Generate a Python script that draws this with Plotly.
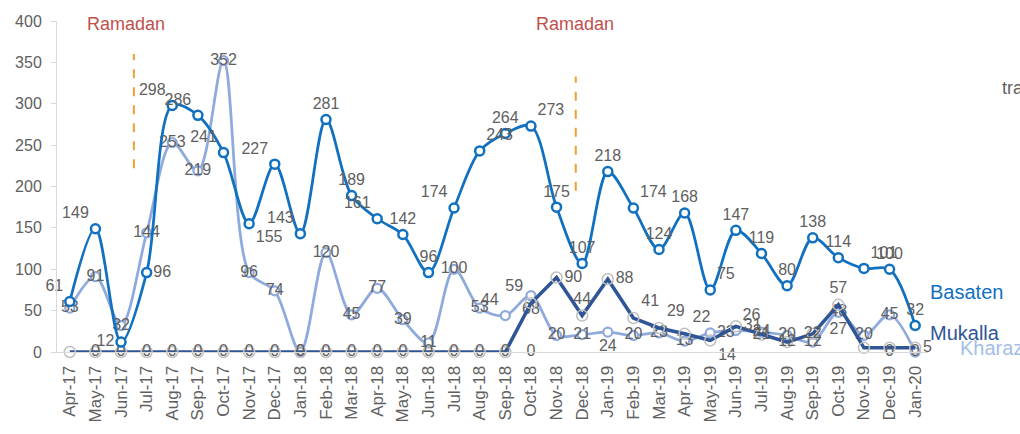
import plotly.graph_objects as go

# ---------------- data ----------------
months = ["Apr-17", "May-17", "Jun-17", "Jul-17", "Aug-17", "Sep-17", "Oct-17", "Nov-17",
          "Dec-17", "Jan-18", "Feb-18", "Mar-18", "Apr-18", "May-18", "Jun-18", "Jul-18",
          "Aug-18", "Sep-18", "Oct-18", "Nov-18", "Dec-18", "Jan-19", "Feb-19", "Mar-19",
          "Apr-19", "May-19", "Jun-19", "Jul-19", "Aug-19", "Sep-19", "Oct-19", "Nov-19",
          "Dec-19", "Jan-20"]

basaten = [61, 149, 12, 96, 298, 286, 241, 155, 227, 143, 281, 189, 161, 142, 96, 174,
           243, 264, 273, 175, 107, 218, 174, 124, 168, 75, 147, 119, 80, 138, 114, 101,
           100, 32]

mukalla = [0, 0, 0, 0, 0, 0, 0, 0, 0, 0, 0, 0, 0, 0, 0, 0,
           0, 0, 59, 90, 44, 88, 41, 29, 22, 14, 31, 21, 12, 22, 57, 5,
           5, 5]

kharaz = [53, 91, 32, 144, 253, 219, 352, 96, 74, 0, 120, 45, 77, 39, 11, 100,
          53, 44, 68, 20, 21, 24, 20, 23, 13, 23, 26, 24, 20, 12, 48, 20,
          45, 0]

mukalla_hidden_labels = ["Apr-17", "Nov-19", "Dec-19"]

# stray data labels visible near the axis
extra_months = ["Oct-18", "Oct-19", "Dec-19"]
extra_values = [0, 27, 0]

ramadan_lines = [2.5, 19.75]          # category positions of dashed markers
ramadan_spans = [(222, 360), (195, 333)]

# ---------------- label positions ----------------
bas_pos = ["top left", "top left", "middle left", "middle right", "top left", "top left",
           "top left", "bottom right", "top left", "top left", "top center", "top center",
           "top left", "top center", "top center", "top left", "top right", "top center",
           "top right", "top center", "top center", "top center", "top right", "top center",
           "top center", "top right", "top center", "top center", "top center", "top center",
           "top center", "top right", "top center", "top center"]

kh_pos = ["middle center"] * len(months)
kh_pos[17] = "top left"
kh_pos[18] = "bottom center"
kh_pos[21] = "bottom center"
kh_pos[25] = "middle right"
kh_pos[26] = "top right"

mk_pos = ["middle center"] * len(months)
mk_pos[18] = "top left"
mk_pos[19] = "middle right"
mk_pos[20] = "top center"
mk_pos[21] = "middle right"
mk_pos[22] = "top right"
mk_pos[23] = "top right"
mk_pos[24] = "top right"
mk_pos[25] = "bottom right"
mk_pos[26] = "middle right"
mk_pos[30] = "top center"
mk_pos[33] = "middle right"

mk_text = ["" if m in mukalla_hidden_labels else str(v) for m, v in zip(months, mukalla)]

# ---------------- styling ----------------
C_BAS = "#1170BF"
C_MUK = "#2F5597"
C_KH = "#8FAADC"
C_LBL = "#606060"
FONT = "Liberation Sans, Arial, sans-serif"
LBL_FONT = dict(family=FONT, size=16, color=C_LBL)

fig = go.Figure()

fig.add_trace(go.Scatter(
    x=months, y=kharaz, name="Kharaz", mode="lines+markers+text",
    line=dict(color=C_KH, width=2.75, shape="spline", smoothing=0.9),
    marker=dict(symbol="circle", size=9, color="white", line=dict(color=C_KH, width=2.25)),
    text=[str(v) for v in kharaz], textposition=kh_pos, textfont=LBL_FONT,
    cliponaxis=False, showlegend=False))

fig.add_trace(go.Scatter(
    x=months, y=mukalla, name="Mukalla", mode="lines+markers+text",
    line=dict(color=C_MUK, width=3.5),
    marker=dict(symbol="circle", size=11, color="rgba(255,255,255,0)",
                line=dict(color="#BFBFBF", width=1.5)),
    text=mk_text, textposition=mk_pos, textfont=LBL_FONT,
    cliponaxis=False, showlegend=False))

fig.add_trace(go.Scatter(
    x=months, y=basaten, name="Basaten", mode="lines+markers+text",
    line=dict(color=C_BAS, width=2.75, shape="spline", smoothing=0.9),
    marker=dict(symbol="circle", size=9, color="white", line=dict(color=C_BAS, width=2.5)),
    text=[str(v) for v in basaten], textposition=bas_pos, textfont=LBL_FONT,
    cliponaxis=False, showlegend=False))

fig.add_trace(go.Scatter(
    x=extra_months, y=extra_values, mode="text",
    text=[str(v) for v in extra_values], textposition="middle center",
    textfont=LBL_FONT, cliponaxis=False, showlegend=False))

# Ramadan dashed markers
for xpos, (y0, y1) in zip(ramadan_lines, ramadan_spans):
    fig.add_shape(type="line", xref="x", yref="y", x0=xpos, x1=xpos, y0=y0, y1=y1,
                  line=dict(color="#F0A030", width=2, dash="dash"))

for xpos in [2.21, 19.72]:
    fig.add_annotation(text="Ramadan", xref="x", yref="y", x=xpos, y=396,
                       showarrow=False, xanchor="center", yanchor="middle",
                       font=dict(family=FONT, size=18, color="#C0504D"))

# series name labels at right
fig.add_annotation(text="Basaten", xref="paper", yref="y", x=1.0, y=72.5, showarrow=False,
                   xanchor="left", yanchor="middle", font=dict(family=FONT, size=20, color=C_BAS))
fig.add_annotation(text="Mukalla", xref="paper", yref="y", x=1.0, y=23, showarrow=False,
                   xanchor="left", yanchor="middle", font=dict(family=FONT, size=20, color=C_MUK))
fig.add_annotation(text="Kharaz", xref="paper", yref="y", x=1.0344, y=5, showarrow=False,
                   xanchor="left", yanchor="middle", font=dict(family=FONT, size=20, color="#A3BEE8"))
fig.add_annotation(text="tra", xref="paper", yref="y", x=1.0827, y=319, showarrow=False,
                   xanchor="left", yanchor="middle", font=dict(family=FONT, size=18, color=C_LBL))

fig.update_layout(
    width=1020, height=434,
    margin=dict(l=57, r=92, t=21, b=82),
    plot_bgcolor="white", paper_bgcolor="white",
    font=dict(family=FONT, color=C_LBL),
)
fig.update_xaxes(
    type="category", categoryorder="array", categoryarray=months,
    range=[-0.5, 33.5], showgrid=False, zeroline=False,
    showline=True, linecolor="#D9D9D9", linewidth=1,
    ticks="", tickangle=-90, tickfont=dict(family=FONT, size=17, color=C_LBL),
    ticklabelstandoff=6,
)
fig.update_yaxes(
    range=[0, 400], tick0=0, dtick=50, showgrid=False, zeroline=False,
    showline=True, linecolor="#D9D9D9", linewidth=1,
    ticks="outside", ticklen=5, tickcolor="#D9D9D9",
    tickfont=dict(family=FONT, size=16, color=C_LBL),
    ticklabelstandoff=6,
)

fig.write_html("out.html", config={"displayModeBar": False},
               post_script="document.body.style.margin='0';document.body.style.overflow='hidden';")
